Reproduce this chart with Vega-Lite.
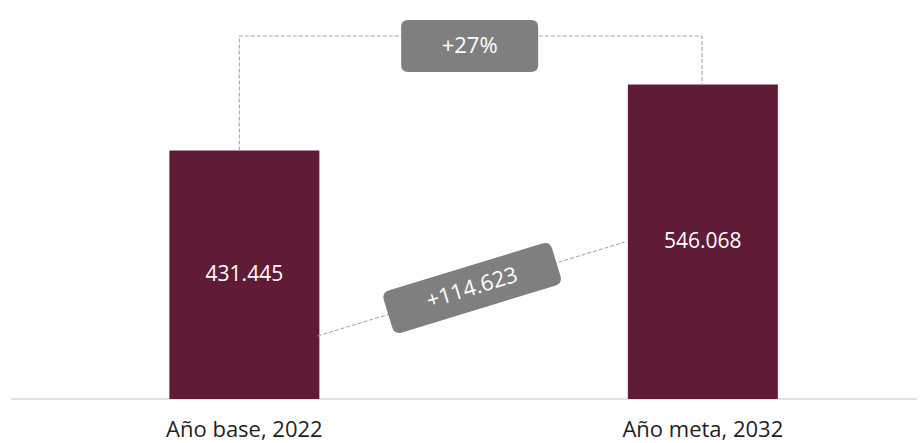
{
  "$schema": "https://vega.github.io/schema/vega-lite/v6.json",
  "width": 922,
  "height": 443,
  "autosize": {"type": "none"},
  "padding": 0,
  "background": "white",
  "config": {"view": {"stroke": null}, "font": "Open Sans"},
  "datasets": {
    "bars": [
      {"category": "Año base, 2022", "position": 1, "value": 431445, "label": "431.445"},
      {"category": "Año meta, 2032", "position": 2, "value": 546068, "label": "546.068"}
    ],
    "baseline": [{"start": 0.4908, "end": 2.4671, "level": 0}],
    "elbow": [
      {"step": 1, "x": 0.989, "y": 431445},
      {"step": 2, "x": 0.989, "y": 630240},
      {"step": 3, "x": 1.998, "y": 630240},
      {"step": 4, "x": 1.998, "y": 546068}
    ],
    "slope": [
      {"step": 1, "x": 1.1598, "y": 109380},
      {"step": 2, "x": 1.8294, "y": 272580}
    ],
    "pct": [{"x": 1.4914, "y": 612880, "text": "+27%"}],
    "diff": [{"x": 1.4968, "y": 192720, "text": "+114.623"}]
  },
  "resolve": {"scale": {"y": "independent"}},
  "layer": [
    {
      "data": {"name": "baseline"},
      "mark": {"type": "rule", "color": "#D9D9D9", "strokeWidth": 1.5},
      "encoding": {
        "x": {"field": "start", "type": "quantitative", "scale": {"domain": [0.4779, 2.4671], "nice": false, "zero": false}, "axis": null},
        "x2": {"field": "end"},
        "y": {"field": "level", "type": "quantitative", "scale": {"domain": [-76393, 692744], "nice": false, "zero": false}, "axis": null}
      }
    },
    {
      "data": {"name": "bars"},
      "mark": {"type": "bar", "width": 150, "color": "#601B37"},
      "encoding": {
        "x": {"field": "position", "type": "quantitative", "scale": {"domain": [0.4779, 2.4671], "nice": false, "zero": false}, "axis": null},
        "y": {"field": "value", "type": "quantitative", "scale": {"domain": [-76393, 692744], "nice": false, "zero": false}, "axis": null}
      }
    },
    {
      "data": {"name": "elbow"},
      "mark": {"type": "line", "color": "#A6A6A6", "strokeWidth": 1.1, "strokeDash": [4, 2]},
      "encoding": {
        "x": {"field": "x", "type": "quantitative", "scale": {"domain": [0.4779, 2.4671], "nice": false, "zero": false}, "axis": null},
        "y": {"field": "y", "type": "quantitative", "scale": {"domain": [-76393, 692744], "nice": false, "zero": false}, "axis": null},
        "order": {"field": "step", "type": "quantitative"}
      }
    },
    {
      "data": {"name": "slope"},
      "mark": {"type": "line", "color": "#A6A6A6", "strokeWidth": 1.1, "strokeDash": [4, 2]},
      "encoding": {
        "x": {"field": "x", "type": "quantitative", "scale": {"domain": [0.4779, 2.4671], "nice": false, "zero": false}, "axis": null},
        "y": {"field": "y", "type": "quantitative", "scale": {"domain": [-76393, 692744], "nice": false, "zero": false}, "axis": null},
        "order": {"field": "step", "type": "quantitative"}
      }
    },
    {
      "data": {"name": "pct"},
      "mark": {"type": "point", "shape": "M -0.898,-0.38 L 0.898,-0.38 Q 1,-0.38 1,-0.278 L 1,0.278 Q 1,0.38 0.898,0.38 L -0.898,0.38 Q -1,0.38 -1,0.278 L -1,-0.278 Q -1,-0.38 -0.898,-0.38 Z", "size": 18769, "filled": true, "fill": "#7F7F7F", "opacity": 1, "strokeWidth": 0},
      "encoding": {
        "x": {"field": "x", "type": "quantitative", "scale": {"domain": [0.4779, 2.4671], "nice": false, "zero": false}, "axis": null},
        "y": {"field": "y", "type": "quantitative", "scale": {"domain": [-76393, 692744], "nice": false, "zero": false}, "axis": null}
      }
    },
    {
      "data": {"name": "pct"},
      "mark": {"type": "text", "color": "white", "fontSize": 22, "align": "center", "baseline": "middle"},
      "encoding": {
        "x": {"field": "x", "type": "quantitative", "scale": {"domain": [0.4779, 2.4671], "nice": false, "zero": false}, "axis": null},
        "y": {"field": "y", "type": "quantitative", "scale": {"domain": [-76393, 692744], "nice": false, "zero": false}, "axis": null},
        "text": {"field": "text"}
      }
    },
    {
      "data": {"name": "diff"},
      "mark": {"type": "point", "shape": "M -0.909,-0.25 L 0.909,-0.25 Q 1,-0.25 1,-0.159 L 1,0.159 Q 1,0.25 0.909,0.25 L -0.909,0.25 Q -1,0.25 -1,0.159 L -1,-0.159 Q -1,-0.25 -0.909,-0.25 Z", "size": 30976, "angle": 343, "filled": true, "fill": "#7F7F7F", "opacity": 1, "strokeWidth": 0},
      "encoding": {
        "x": {"field": "x", "type": "quantitative", "scale": {"domain": [0.4779, 2.4671], "nice": false, "zero": false}, "axis": null},
        "y": {"field": "y", "type": "quantitative", "scale": {"domain": [-76393, 692744], "nice": false, "zero": false}, "axis": null}
      }
    },
    {
      "data": {"name": "diff"},
      "mark": {"type": "text", "color": "white", "fontSize": 22, "align": "center", "baseline": "middle", "angle": 343},
      "encoding": {
        "x": {"field": "x", "type": "quantitative", "scale": {"domain": [0.4779, 2.4671], "nice": false, "zero": false}, "axis": null},
        "y": {"field": "y", "type": "quantitative", "scale": {"domain": [-76393, 692744], "nice": false, "zero": false}, "axis": null},
        "text": {"field": "text"}
      }
    },
    {
      "data": {"name": "bars"},
      "mark": {"type": "text", "color": "#1F1F1F", "fontSize": 22, "align": "center", "baseline": "alphabetic"},
      "encoding": {
        "x": {"field": "position", "type": "quantitative", "scale": {"domain": [0.4779, 2.4671], "nice": false, "zero": false}, "axis": null},
        "y": {"datum": -65976, "type": "quantitative", "scale": {"domain": [-76393, 692744], "nice": false, "zero": false}, "axis": null},
        "text": {"field": "category"}
      }
    },
    {
      "data": {"name": "bars"},
      "mark": {"type": "text", "color": "white", "fontSize": 21, "align": "center", "baseline": "middle"},
      "encoding": {
        "x": {"field": "position", "type": "quantitative", "scale": {"domain": [0.4779, 2.4671], "nice": false, "zero": false}, "axis": null},
        "y": {"field": "value", "type": "quantitative", "scale": {"domain": [-152786, 1385488], "nice": false, "zero": false}, "axis": null},
        "text": {"field": "label"}
      }
    }
  ]
}
